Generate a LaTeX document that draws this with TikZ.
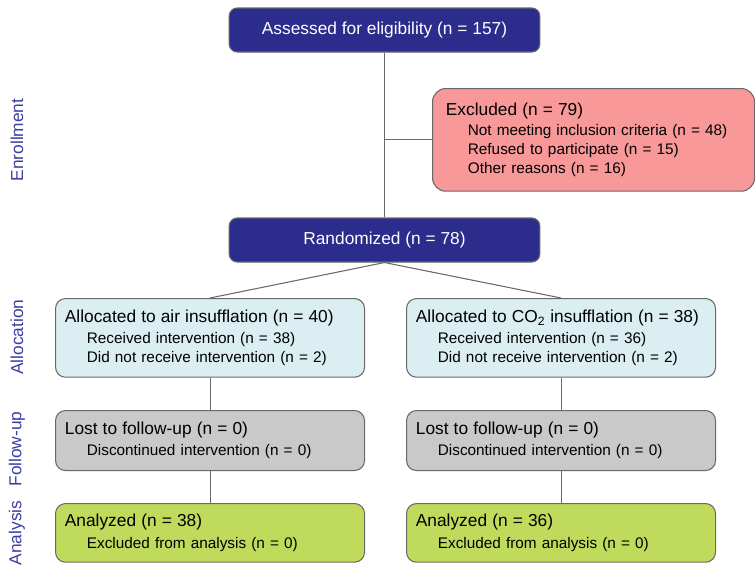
\documentclass[tikz,border=0pt]{standalone}
\usepackage{xcolor}
\usepackage{fontspec}
\setmainfont{Liberation Sans}
\usepackage{tikz}

\definecolor{flowblue}{RGB}{44,44,140}
\definecolor{flowpink}{RGB}{248,152,152}
\definecolor{flowcyan}{RGB}{219,238,242}
\definecolor{flowgray}{RGB}{201,201,201}
\definecolor{flowgreen}{RGB}{192,219,92}
\definecolor{flowline}{RGB}{105,105,105}
\definecolor{phasetext}{RGB}{62,62,160}

\newcommand{\headline}[1]{{\fontsize{13}{15.6}\selectfont #1}}
\newcommand{\subline}[1]{\hspace*{16.5pt}{\fontsize{11.5}{14}\selectfont #1}}

\tikzset{
  flowbox/.style={draw=flowline, line width=0.8pt, rounded corners=7.5pt, anchor=north west,
    inner xsep=7pt, text width=217.75pt, align=left, font=\fontsize{11.5}{14}\selectfont},
  darkbox/.style={draw=flowline, line width=0.8pt, fill=flowblue, text=white, rounded corners=6pt,
    minimum width=233pt, minimum height=33pt, font=\fontsize{13}{15.6}\selectfont},
  phase/.style={rotate=90, text=phasetext, font=\fontsize{13}{15.6}\selectfont},
  link/.style={draw=flowline, line width=0.8pt}
}

\begin{document}
\begin{tikzpicture}[x=0.75pt, y=-0.75pt]
\useasboundingbox (0,0) rectangle (755,564);

\node[darkbox] (assess) at (384.5,30) {Assessed for eligibility (n = 157)};
\node[flowbox, fill=flowpink, minimum height=77pt, inner xsep=10pt, text width=221.5pt,
  rounded corners=10pt] (excl) at (432,88) {%
\headline{Excluded (n = 79)}\\[1pt]
\subline{Not meeting inclusion criteria (n = 48)}\\
\subline{Refused to participate (n = 15)}\\
\subline{Other reasons (n = 16)}};
\node[darkbox] (rand) at (384.5,240) {Randomized (n = 78)};

\node[flowbox, fill=flowcyan, minimum height=59pt] (allocair) at (55,298) {%
\headline{Allocated to air insufflation (n = 40)}\\[2pt]
\subline{Received intervention (n = 38)}\\
\subline{Did not receive intervention (n = 2)}};
\node[flowbox, fill=flowcyan, minimum height=59pt] (allocco) at (406,298) {%
\headline{Allocated to CO\textsubscript{2} insufflation (n = 38)}\\[2pt]
\subline{Received intervention (n = 36)}\\
\subline{Did not receive intervention (n = 2)}};

\node[flowbox, fill=flowgray, minimum height=45pt] (lostair) at (55,410) {%
\headline{Lost to follow-up (n = 0)}\\[2pt]
\subline{Discontinued intervention (n = 0)}};
\node[flowbox, fill=flowgray, minimum height=45pt] (lostco) at (406,410) {%
\headline{Lost to follow-up (n = 0)}\\[2pt]
\subline{Discontinued intervention (n = 0)}};

\node[flowbox, fill=flowgreen, minimum height=44pt] (anair) at (55,503) {%
\headline{Analyzed (n = 38)}\\[2pt]
\subline{Excluded from analysis (n = 0)}};
\node[flowbox, fill=flowgreen, minimum height=44pt] (anaco) at (406,503) {%
\headline{Analyzed (n = 36)}\\[2pt]
\subline{Excluded from analysis (n = 0)}};

% phase labels down the left side
\node[phase] (enrol) at (17,140) {Enrollment};
\node[phase] (alloc) at (17,337) {Allocation};
\node[phase] (follow) at (17,449) {Follow-up};
\node[phase] (analysis) at (17,533) {Analysis};

\coordinate (split) at (assess.south |- excl.west);
\draw[link] (assess) -- (rand);
\draw[link] (split) -- (excl.west);
\draw[link] (rand.south) -- (allocair.north);
\draw[link] (rand.south) -- (allocco.north);
\draw[link] (allocair) -- (lostair);
\draw[link] (lostair) -- (anair);
\draw[link] (allocco) -- (lostco);
\draw[link] (lostco) -- (anaco);
\end{tikzpicture}
\end{document}
